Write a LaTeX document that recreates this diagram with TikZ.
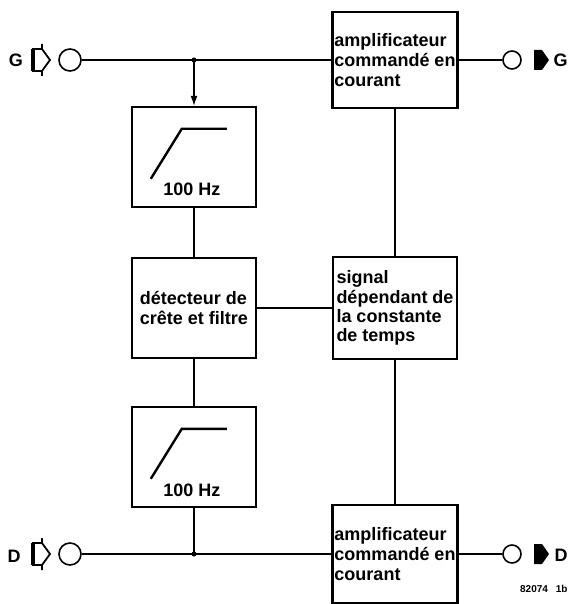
\documentclass[tikz,border=0pt]{standalone}
\usepackage{fontspec}
\setmainfont{Liberation Sans}
\usetikzlibrary{arrows.meta,positioning,calc}

\begin{document}
\begin{tikzpicture}[x=0.5pt,y=-0.5pt,
  font=\bfseries\fontsize{9}{9.6}\selectfont,
  blockbox/.style={draw,line width=1.2pt,minimum width=62pt,minimum height=50pt,
                   align=left,inner sep=1pt},
  wire/.style={line width=0.6pt},
  jack/.style={draw,circle,line width=0.8pt,minimum size=11pt,inner sep=0pt},
  outjack/.style={jack,minimum size=9pt},
  junction/.style={circle,fill,inner sep=0pt,minimum size=2.5pt}]
\useasboundingbox (0,0) rectangle (569,604);

% blocks
\node[blockbox,minimum height=48pt,font=\bfseries\fontsize{9}{10}\selectfont] (ampG) at (395,60) {amplificateur\\commandé en\\courant};
\node[blockbox] (hpG) at (194,157) {};
\node[blockbox] (det) at (194,308) {détecteur de\\crête et filtre};
\node[blockbox,minimum height=51pt] (sig) at (395,308) {signal\\dépendant de\\la constante\\de temps};
\node[blockbox] (hpD) at (194,457) {};
\node[blockbox,minimum height=49pt,font=\bfseries\fontsize{9}{10}\selectfont] (ampD) at (395,554) {amplificateur\\commandé en\\courant};

% jacks
\node[jack] (inG) at (70,60) {};
\node[jack] (inD) at (70,554) {};
\node[outjack] (outG) at (512,60) {};
\node[outjack] (outD) at (512,554) {};
\node (lblG) at (16,60) {G};
\node (lblD) at (14,556) {D};
\node[anchor=east,inner sep=0pt] (lblGo) at (568,60) {G};
\node[anchor=east,inner sep=0pt] (lblDo) at (568,555) {D};
\node[anchor=east,inner sep=0pt,font=\bfseries\fontsize{5}{6}\selectfont] (fignum) at (568,589) {82074\hspace{4pt}1b};

\foreach \j in {inG,inD} {
  \draw[line width=0.9pt] ($(\j)+(-37,-11)$) -- ($(\j)+(-28,-11)$) -- ($(\j)+(-20,0)$)
     -- ($(\j)+(-28,11)$) -- ($(\j)+(-37,11)$) -- cycle
     ($(\j)+(-28,-16)$) -- ($(\j)+(-28,-11)$) ($(\j)+(-28,11)$) -- ($(\j)+(-28,16)$);
  \draw[line width=2pt] ($(\j)+(-37,-11)$) -- ($(\j)+(-37,11)$);
}
\foreach \j in {outG,outD}
  \fill ($(\j)+(22,-10)$) -- ($(\j)+(30,-10)$) -- ($(\j)+(37,0)$)
     -- ($(\j)+(30,10)$) -- ($(\j)+(22,10)$) -- cycle;

% high-pass sketches
\foreach \f in {hpG,hpD} {
  \draw[line width=1.2pt] ($(\f.north west)+(20,73)$) -- ($(\f.north west)+(51,23)$)
     -- ($(\f.north west)+(96,23)$);
  \node (lbl\f) at ($(\f.north west)+(61,84)$) {100 Hz};
}

% wiring
\node[junction] (jG) at (hpG.north |- inG) {};
\node[junction] (jD) at (hpD.south |- inD) {};
\draw[wire] (inG) -- (ampG.west);
\draw[wire,-{Latex[length=5pt,width=3.5pt]}] (jG.center) -- (hpG.north);
\draw[wire] (hpG) -- (det);
\draw[wire] (det) -- (hpD);
\draw[wire] (hpD) -- (jD.center);
\draw[wire] (inD) -- (ampD.west);
\draw[wire] (det) -- (sig);
\draw[wire] (ampG) -- (sig);
\draw[wire] (sig) -- (ampD);
\draw[wire] (ampG) -- (outG);
\draw[wire] (ampD) -- (outD);
\end{tikzpicture}
\end{document}
